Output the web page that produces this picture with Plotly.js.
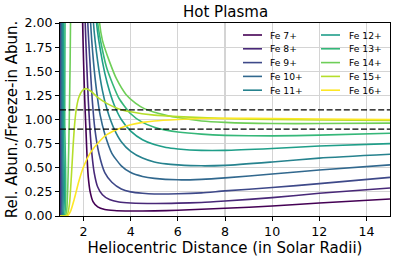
<!DOCTYPE html>
<html><head><meta charset="utf-8">
<script src="https://cdn.plot.ly/plotly-3.0.1.min.js"></script>
<style>html,body{margin:0;padding:0;background:#fff}#chart{width:396px;height:261px}</style>
</head><body><div id="chart"></div>
<script>
const ionNames = ["Fe 7+","Fe 8+","Fe 9+","Fe 10+","Fe 11+","Fe 12+","Fe 13+","Fe 14+","Fe 15+","Fe 16+"];

const xFe7  = [1.0,1.003,1.006,1.05,1.9,1.96,2.0,2.05,2.1,2.15,2.2,2.28,2.4,2.6,2.9,3.3,4,5,6,7,8,10,12,15];
const yFe7  = [0,1.0,2.5,3,3,2.0,1.6,1.2,0.9,0.6,0.4,0.25,0.15,0.095,0.068,0.057,0.052,0.053,0.06,0.07,0.08,0.103,0.135,0.176];
const xFe8  = [1.0,1.01,1.015,1.02,1.05,2.0,2.07,2.13,2.2,2.27,2.35,2.45,2.6,2.8,3.1,3.5,4,5,6,7,8,10,12,15];
const yFe8  = [0,0,1.0,2.5,3,3,2.0,1.6,1.2,0.9,0.65,0.45,0.3,0.22,0.17,0.145,0.135,0.13,0.133,0.14,0.155,0.19,0.235,0.29];
const xFe9  = [1.0,1.03,1.037,1.045,1.08,2.1,2.18,2.27,2.37,2.48,2.65,2.9,3.2,3.6,4,4.5,5,6,7,8,10,12,15];
const yFe9  = [0,0,1.0,2.5,3,3,2.0,1.6,1.2,0.9,0.65,0.45,0.35,0.28,0.25,0.235,0.228,0.23,0.24,0.26,0.295,0.335,0.40];
const xFe10 = [1.0,1.055,1.065,1.075,1.1,2.2,2.3,2.42,2.55,2.7,2.9,3.2,3.6,4,4.5,5,6,7,8,10,12,15];
const yFe10 = [0,0,1.0,2.5,3,3,2.0,1.6,1.3,1.05,0.85,0.65,0.52,0.45,0.41,0.39,0.375,0.38,0.395,0.435,0.477,0.53];
const xFe11 = [1.0,1.09,1.102,1.115,1.14,2.3,2.42,2.6,2.8,3.0,3.3,3.6,4,4.5,5,5.5,6,7,8,10,12,15];
const yFe11 = [0,0,1.0,2.5,3,3,2.0,1.6,1.3,1.1,0.9,0.77,0.67,0.6,0.56,0.54,0.53,0.52,0.525,0.56,0.60,0.64];
const xFe12 = [1.0,1.13,1.145,1.16,1.19,2.4,2.55,2.8,3.0,3.3,3.6,4,4.5,5,5.5,6,7,8,10,12,15];
const yFe12 = [0,0,1.0,2.5,3,3,2.0,1.6,1.38,1.15,1.0,0.88,0.79,0.74,0.71,0.695,0.68,0.68,0.70,0.725,0.75];
const xFe13 = [1.0,1.18,1.2,1.22,1.25,2.45,2.6,2.8,3.0,3.5,4,4.5,5,5.5,6,7,8,10,12,15];
const yFe13 = [0,0,1.0,2.5,3,3,2.0,1.72,1.52,1.22,1.06,0.97,0.92,0.89,0.87,0.848,0.836,0.83,0.838,0.857];
const xFe14 = [1.0,1.22,1.28,1.33,1.37,1.4,1.43,1.45,1.5,2.5,2.68,2.8,3.1,3.4,3.8,4.2,4.6,5,5.5,6,7,8,10,12,15];
const yFe14 = [0,0,0.05,0.3,0.7,1.1,1.6,2.1,3,3,2.0,1.82,1.6,1.42,1.26,1.17,1.11,1.075,1.045,1.02,0.985,0.97,0.958,0.958,0.962];
const xFe15 = [1.0,1.25,1.32,1.4,1.48,1.55,1.62,1.7,1.8,1.95,2.1,2.3,2.6,3.0,3.5,4,5,6,7,8,10,12,15];
const yFe15 = [0,0,0.02,0.12,0.4,0.7,0.95,1.12,1.23,1.3,1.32,1.295,1.23,1.165,1.11,1.08,1.045,1.03,1.02,1.01,1.0,0.995,0.99];
const xFe16 = [1.0,1.28,1.35,1.45,1.6,1.8,2.0,2.3,2.7,3.0,3.5,4,4.5,5,6,7,8,10,12,15];
const yFe16 = [0,0,0.01,0.05,0.17,0.36,0.51,0.66,0.78,0.845,0.905,0.945,0.97,0.985,1.0,1.01,1.012,1.01,1.005,1.0];

const thresholds = [0.9, 1.1];
const xRange = [1, 15];
const yRange = [0, 2];
const xTicks = [2,4,6,8,10,12,14];
const yTicks = [0,0.25,0.5,0.75,1.0,1.25,1.5,1.75,2.0];
const yTickLabels = ["0.00","0.25","0.50","0.75","1.00","1.25","1.50","1.75","2.00"];

const seriesX = [xFe7,xFe8,xFe9,xFe10,xFe11,xFe12,xFe13,xFe14,xFe15,xFe16];
const seriesY = [yFe7,yFe8,yFe9,yFe10,yFe11,yFe12,yFe13,yFe14,yFe15,yFe16];
const colors = ["#440154","#482878","#3e4989","#31688e","#26828e","#1f9e89","#35b779","#6ece58","#b5de2b","#fde725"];

const FONT = "DejaVu Sans, Liberation Sans, sans-serif";
const traces = [];
for (let i = 0; i < ionNames.length; i++) {
  traces.push({x: seriesX[i], y: seriesY[i], type: "scatter", mode: "lines", name: ionNames[i],
    line: {color: colors[i], width: 1.6, shape: "spline", smoothing: 0.6}, showlegend: false, hoverinfo: "skip"});
}
thresholds.forEach(t => {
  traces.push({x: xRange, y: [t, t], type: "scatter", mode: "lines", showlegend: false,
    line: {color: "#000", width: 1.4, dash: "6px,2.6px"}, hoverinfo: "skip"});
});

const L = 60, R = 6, T = 23, B = 45, W = 396, H = 261;
const pw = W - L - R, ph = H - T - B;
const px2x = p => (p - L) / pw;
const py2y = p => (H - B - p) / ph;

const annotations = [{text: "Hot Plasma", x: 0.5, y: py2y(12), xref: "paper", yref: "paper",
  xanchor: "center", yanchor: "middle", showarrow: false, font: {family: FONT, size: 15, color: "#000"}}];
const shapes = [];
const rowY = [35, 48.8, 62.6, 76.4, 90.2];
const colLine = [[243, 262], [321, 340]];
const colText = [268, 347];
for (let i = 0; i < ionNames.length; i++) {
  const c = Math.floor(i / 5), r = i % 5;
  shapes.push({type: "line", xref: "paper", yref: "paper", x0: px2x(colLine[c][0]), x1: px2x(colLine[c][1]),
    y0: py2y(rowY[r]), y1: py2y(rowY[r]), line: {color: colors[i], width: 1.6}});
  annotations.push({text: ionNames[i], x: px2x(colText[c]), y: py2y(rowY[r]), xref: "paper", yref: "paper",
    xanchor: "left", yanchor: "middle", showarrow: false, font: {family: FONT, size: 9.2, color: "#000"}});
}

const layout = {
  width: W, height: H, margin: {l: L, r: R, t: T, b: B, pad: 0},
  paper_bgcolor: "#fff", plot_bgcolor: "#fff",
  font: {family: FONT, size: 12.5, color: "#000"},
  showlegend: false,
  xaxis: {range: xRange, tickvals: xTicks, ticktext: xTicks.map(String), showgrid: true, gridcolor: "#d4d4d4", gridwidth: 1.2,
    zeroline: false, showline: true, linecolor: "#000", linewidth: 1, mirror: true, ticks: "outside", ticklen: 4, tickcolor: "#000",
    tickfont: {family: FONT, size: 12.6}, title: {text: "Heliocentric Distance (in Solar Radii)", font: {family: FONT, size: 15}, standoff: 4}},
  yaxis: {range: yRange, tickvals: yTicks, ticktext: yTickLabels, showgrid: true, gridcolor: "#d4d4d4", gridwidth: 1.2,
    zeroline: false, showline: true, linecolor: "#000", linewidth: 1, mirror: true, ticks: "outside", ticklen: 4, tickcolor: "#000",
    tickfont: {family: FONT, size: 12.6}, title: {text: "Rel. Abun./Freeze-in Abun.", font: {family: FONT, size: 15}, standoff: 3}},
  annotations: annotations, shapes: shapes
};
Plotly.newPlot("chart", traces, layout, {staticPlot: true, displayModeBar: false});
</script></body></html>
